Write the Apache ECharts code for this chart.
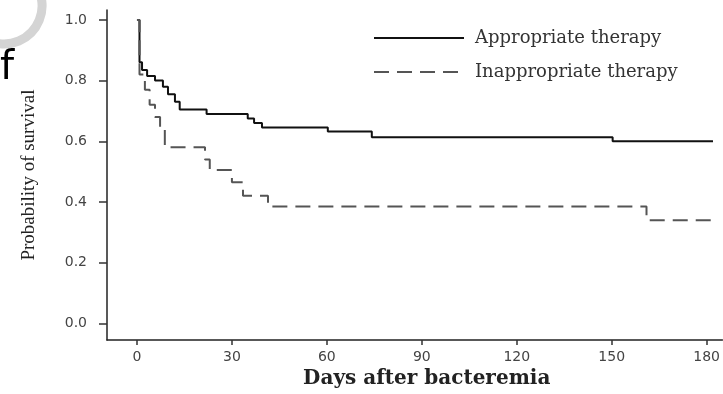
<!DOCTYPE html>
<html>
<head>
<meta charset="utf-8">
<script src="https://cdn.jsdelivr.net/npm/echarts@6/dist/echarts.min.js"></script>
<style>
  html, body { margin: 0; padding: 0; background: #fff; }
  #chart { width: 723px; height: 394px; }
</style>
</head>
<body>
<div id="chart"></div>
<script>
// Kaplan-Meier steps [days, survival]
var appropriate = [
  [0, 1.0], [0.8, 0.86], [1.6, 0.835], [3.2, 0.815], [5.7, 0.80], [8.2, 0.78],
  [9.8, 0.755], [12, 0.73], [13.5, 0.705], [22, 0.69], [35, 0.675], [37, 0.66],
  [39.5, 0.645], [60.3, 0.632], [74.2, 0.613], [150.3, 0.60], [182, 0.60]
];
var inappropriate = [
  [0, 1.0], [0.8, 0.82], [2.5, 0.77], [4, 0.72], [5.7, 0.68], [7.3, 0.64],
  [8.8, 0.58], [21.5, 0.54], [23, 0.505], [30, 0.465], [33.5, 0.42],
  [41.4, 0.385], [161, 0.34], [182, 0.34]
];
var seriesNames = ['Appropriate therapy', 'Inappropriate therapy'];
var xTicks = [0, 30, 60, 90, 120, 150, 180];
var yTicks = [0.0, 0.2, 0.4, 0.6, 0.8, 1.0];
// axis extents: the axes run a little past 0 on both sides
var xRange = [-9.47, 185];
var yRange = [-0.0554, 1.0326];

var chartDom = document.getElementById('chart');
var chart = echarts.getInstanceByDom(chartDom) || echarts.init(chartDom);

var tickFont = { fontFamily: 'DejaVu Sans', fontSize: 14, color: '#444' };
var axisColor = '#222';

var option = {
  animation: false,
  backgroundColor: '#fff',
  grid: { left: 107, right: 0, top: 10, bottom: 50 },
  legend: {
    orient: 'vertical',
    left: 373,
    top: 29,
    padding: 0,
    itemWidth: 90,
    itemHeight: 14,
    itemGap: 16,
    data: seriesNames,
    itemStyle: { opacity: 0 },
    textStyle: { fontFamily: 'DejaVu Serif', fontSize: 18, color: '#333', padding: [0, 0, 0, 6] }
  },
  xAxis: {
    type: 'value', min: xRange[0], max: xRange[1],
    axisLine: { show: true, onZero: false, lineStyle: { color: axisColor, width: 1.5 } },
    axisTick: { show: true, length: 5, customValues: xTicks, lineStyle: { color: '#333', width: 1.5 } },
    axisLabel: Object.assign({ margin: 10, customValues: xTicks }, tickFont),
    splitLine: { show: false },
    name: 'Days after bacteremia',
    nameLocation: 'middle',
    nameGap: 27,
    nameTextStyle: {
      fontFamily: 'DejaVu Serif', fontSize: 20, fontWeight: 'bold', color: '#222',
      padding: [0, 0, 0, 24]
    }
  },
  yAxis: {
    type: 'value', min: yRange[0], max: yRange[1],
    axisLine: { show: true, onZero: false, lineStyle: { color: axisColor, width: 1.5 } },
    axisTick: { show: true, length: 8, customValues: yTicks, lineStyle: { color: '#333', width: 1.5 } },
    axisLabel: Object.assign({ margin: 20, customValues: yTicks }, tickFont, {
      formatter: function (v) { return v.toFixed(1); }
    }),
    splitLine: { show: false },
    name: 'Probability of survival',
    nameLocation: 'middle',
    nameGap: 68,
    nameTextStyle: { fontFamily: 'Liberation Serif', fontSize: 19, color: '#222' }
  },
  graphic: [
    { type: 'arc', shape: { cx: 4, cy: 6, r: 38, startAngle: -0.4, endAngle: 1.75 },
      style: { stroke: '#d4d4d4', lineWidth: 9, fill: null }, silent: true },
    { type: 'text', left: 0, top: 49,
      style: { text: 'f', font: '40px "DejaVu Sans"', fill: '#000' }, silent: true }
  ],
  series: [
    {
      name: seriesNames[0], type: 'line', step: 'end', data: appropriate,
      symbol: 'none',
      lineStyle: { color: '#111', width: 2 }, itemStyle: { color: '#111' }
    },
    {
      name: seriesNames[1], type: 'line', step: 'end', data: inappropriate,
      symbol: 'none',
      lineStyle: { color: '#555', width: 2, type: [15, 8] }, itemStyle: { color: '#555' }
    }
  ]
};

chart.setOption(option);
</script>
</body>
</html>
